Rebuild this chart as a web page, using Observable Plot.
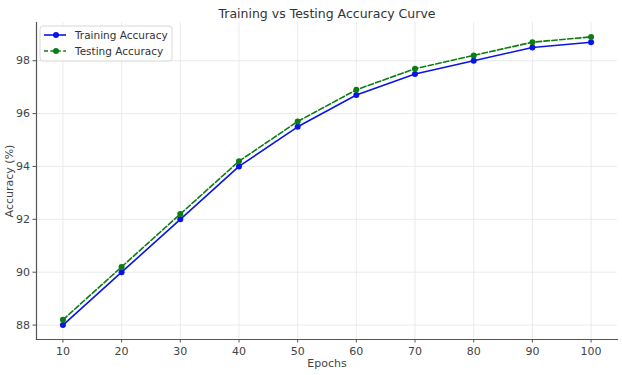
<!DOCTYPE html>
<html>
<head>
<meta charset="utf-8">
<script src="https://cdn.jsdelivr.net/npm/d3@7"></script>
<script src="https://cdn.jsdelivr.net/npm/@observablehq/plot@0.6"></script>
<style>
  html, body { margin: 0; padding: 0; background: #fff; }
  #chart { position: relative; width: 622px; height: 375px; }
</style>
</head>
<body>
<div id="chart"></div>
<script>
// Accuracy per epoch checkpoint
const epochs = [10, 20, 30, 40, 50, 60, 70, 80, 90, 100];
const trainingAccuracy = [88.0, 90.0, 92.0, 94.0, 95.5, 96.7, 97.5, 98.0, 98.5, 98.7];
const testingAccuracy  = [88.2, 90.2, 92.2, 94.2, 95.7, 96.9, 97.7, 98.2, 98.7, 98.9];
const yTicks = [88, 90, 92, 94, 96, 98];
const seriesNames = ["Training Accuracy", "Testing Accuracy"];
const chartTitle = "Training vs Testing Accuracy Curve";

const training = epochs.map((e, i) => ({epoch: e, acc: trainingAccuracy[i]}));
const testing = epochs.map((e, i) => ({epoch: e, acc: testingAccuracy[i]}));

// 5% padding around the data extent on both axes
const pad = (lo, hi) => [lo - (hi - lo) * 0.05, hi + (hi - lo) * 0.05];
const xDomain = pad(d3.min(epochs), d3.max(epochs));
const yDomain = pad(d3.min([...trainingAccuracy, ...testingAccuracy]), d3.max([...trainingAccuracy, ...testingAccuracy]));

const BLUE = "#0a14e6";
const GREEN = "#0c7d12";
const AXIS = "#555";
const GRID = "#e6e6e6";

const chart = Plot.plot({
  width: 622,
  height: 375,
  marginLeft: 36,
  marginRight: 5,
  marginTop: 22,
  marginBottom: 36,
  style: {fontFamily: "DejaVu Sans, sans-serif", fontSize: "11px", color: "#444", background: "#fff"},
  x: {domain: xDomain},
  y: {domain: yDomain},
  marks: [
    Plot.gridX(epochs, {stroke: GRID, strokeOpacity: 1, strokeWidth: 0.8}),
    Plot.gridY(yTicks, {stroke: GRID, strokeOpacity: 1, strokeWidth: 0.8}),
    Plot.frame({anchor: "left", stroke: AXIS, strokeWidth: 1.2}),
    Plot.frame({anchor: "bottom", stroke: AXIS, strokeWidth: 1.2}),
    Plot.axisX(epochs, {tickSize: 3.5, tickPadding: 4, stroke: AXIS, fill: "#444",
      tickFormat: d => String(d), label: "Epochs", labelAnchor: "center", labelArrow: "none", labelOffset: 27}),
    Plot.axisY(yTicks, {tickSize: 3.5, tickPadding: 3, stroke: AXIS, fill: "#444",
      tickFormat: d => String(d), label: "Accuracy (%)", labelAnchor: "center", labelArrow: "none", labelOffset: 31}),
    Plot.line(training, {x: "epoch", y: "acc", stroke: BLUE, strokeWidth: 1.6}),
    Plot.dot(training, {x: "epoch", y: "acc", fill: BLUE, r: 3}),
    Plot.line(testing, {x: "epoch", y: "acc", stroke: GREEN, strokeWidth: 1.6, strokeDasharray: "5.5,2.4"}),
    Plot.dot(testing, {x: "epoch", y: "acc", fill: GREEN, r: 3}),
    Plot.text([chartTitle], {frameAnchor: "top", dy: -13, fontSize: 12.5, fill: "#333"})
  ]
});

document.getElementById("chart").appendChild(chart);

// Legend box in the upper-left corner of the plot area
const svg = d3.select(chart);
const lg = svg.append("g").attr("transform", "translate(40,26)").attr("text-anchor", "start");
lg.append("rect").attr("width", 132).attr("height", 35).attr("rx", 3)
  .attr("fill", "#fff").attr("fill-opacity", 0.85).attr("stroke", "#d8d8d8");
const styles = [
  {color: BLUE, dash: null},
  {color: GREEN, dash: "4,2.4"}
];
seriesNames.forEach((name, i) => {
  const y = 9 + i * 16;
  const row = lg.append("g").attr("transform", `translate(0,${y})`);
  row.append("line").attr("x1", 4).attr("x2", 26).attr("y1", 0).attr("y2", 0)
    .attr("stroke", styles[i].color).attr("stroke-width", 1.6)
    .attr("stroke-dasharray", styles[i].dash);
  row.append("circle").attr("cx", 16).attr("cy", 0).attr("r", 3).attr("fill", styles[i].color);
  row.append("text").attr("x", 35).attr("y", 0).attr("dy", "0.35em")
    .attr("text-anchor", "start")
    .attr("font-size", 10.5).attr("fill", "#333").text(name);
});
</script>
</body>
</html>
